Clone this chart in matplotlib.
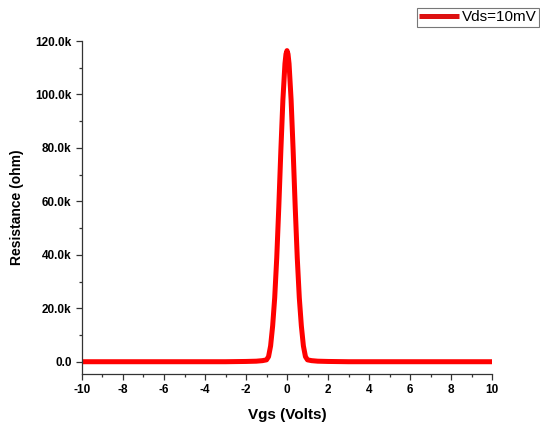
import matplotlib
matplotlib.use("Agg")
import matplotlib.pyplot as plt
from matplotlib.ticker import MultipleLocator, FuncFormatter

plt.rcParams['font.family'] = ['Liberation Sans', 'DejaVu Sans']

# Data (Vgs in volts, resistance in kOhm)
vgs = [-10.0, -6.0, -3.0, -2.0, -1.5, -1.2, -1.0, -0.9, -0.8, -0.7, -0.6, -0.5,
       -0.4, -0.3, -0.2, -0.1, -0.05, 0.0, 0.05, 0.1, 0.2, 0.3, 0.4, 0.5, 0.6, 0.7, 0.8,
       0.9, 1.0, 1.2, 1.5, 2.0, 3.0, 6.0, 10.0]
res_k = [0.1, 0.1, 0.1, 0.2, 0.3, 0.5, 0.8, 2.0, 6.0, 13.5, 24.0, 39.0,
         58.0, 79.0, 98.0, 111.5, 115.1, 116.4, 115.1, 111.5, 98.0, 79.0, 58.0, 39.0, 24.0, 13.5, 6.0,
         2.0, 0.8, 0.5, 0.3, 0.2, 0.1, 0.1, 0.1]
series_label = "Vds=10mV"
xlabel = "Vgs (Volts)"
ylabel = "Resistance (ohm)"

fig = plt.figure(figsize=(5.4, 4.28), dpi=100)
ax = fig.add_axes([82/540, 1-374/428, 410/540, 333/428])

res = [r * 1000 for r in res_k]
line, = ax.plot(vgs, res, color='#ff0000', lw=3.6, solid_capstyle='butt',
                solid_joinstyle='round', label=series_label)

ax.set_xlim(-10, 10)
ax.set_ylim(-4490, 120000)
ax.spines['top'].set_visible(False)
ax.spines['right'].set_visible(False)
ax.spines['left'].set_bounds(-4490, 120000)
for s in ('left', 'bottom'):
    ax.spines[s].set_linewidth(0.9)
    ax.spines[s].set_color('#333333')

ax.xaxis.set_major_locator(MultipleLocator(2))
ax.xaxis.set_minor_locator(MultipleLocator(1))
ax.yaxis.set_major_locator(MultipleLocator(20000))
ax.yaxis.set_minor_locator(MultipleLocator(10000))

def yfmt(v, pos):
    if abs(v) < 1e-6:
        return "0.0"
    return f"{v/1000:.1f}k"

ax.yaxis.set_major_formatter(FuncFormatter(yfmt))
ax.xaxis.set_major_formatter(FuncFormatter(lambda v, p: f"{int(round(v))}"))

ax.tick_params(which='major', direction='out', length=4.5, width=0.9, color='#333333',
               labelsize=8.5, pad=3)
ax.tick_params(which='minor', direction='out', length=2.5, width=0.9, color='#333333')
for lab in ax.get_xticklabels() + ax.get_yticklabels():
    lab.set_fontweight('bold')

ax.set_xlabel(xlabel, fontsize=11, fontweight='bold', labelpad=8)
ax.set_ylabel(ylabel, fontsize=10, fontweight='bold', labelpad=8)

leg = fig.legend(handles=[line], loc='upper left', bbox_to_anchor=(417/540, 1-8/428),
                 fontsize=11, frameon=True, fancybox=False, handlelength=2.6,
                 handletextpad=0.2, borderpad=0.15, borderaxespad=0)
leg.get_frame().set_edgecolor('#555555')
leg.get_frame().set_linewidth(0.8)
leg.get_lines()[0].set_color('#dd1111')

fig.savefig("out.png", dpi=100)
